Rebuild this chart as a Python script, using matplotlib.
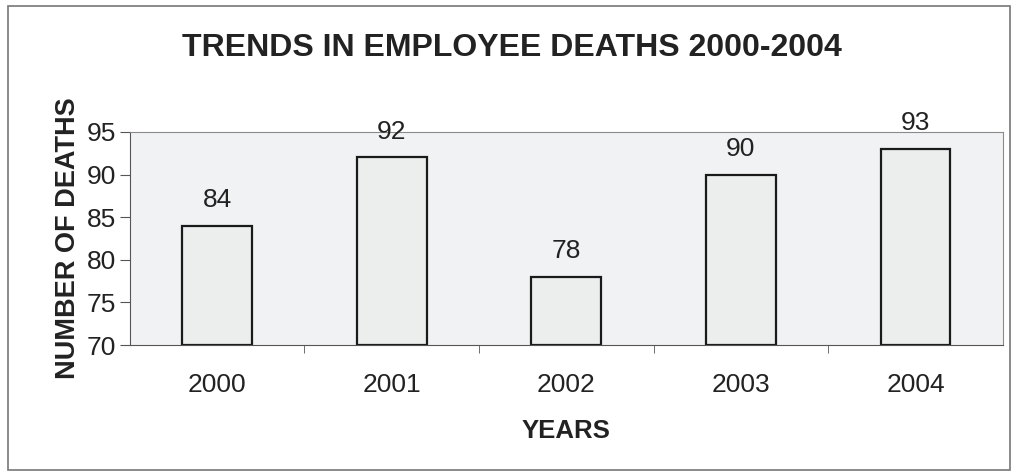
import matplotlib.pyplot as plt
from matplotlib.patches import Rectangle

years = ['2000', '2001', '2002', '2003', '2004']
deaths = [84, 92, 78, 90, 93]

plt.rcParams['font.family'] = ['Liberation Sans', 'DejaVu Sans']

fig = plt.figure(figsize=(10.14, 4.76), dpi=100)
fig.patch.set_facecolor('white')
ax = fig.add_axes([0.128, 0.275, 0.861, 0.448])
ax.set_facecolor('#f1f2f3')

x = range(len(years))
bars = ax.bar(x, [d - 70 for d in deaths], bottom=70, width=0.4,
              color='#eceded', edgecolor='#1a1a1a', linewidth=1.6)
for xi, d in zip(x, deaths):
    ax.text(xi, d + 1.6, str(d), ha='center', va='bottom', fontsize=19, color='#222222')

ax.set_xlim(-0.5, 4.5)
ax.set_ylim(70, 95)
ax.set_yticks([70, 75, 80, 85, 90, 95])
ax.set_xticks(list(x))
ax.set_xticklabels(years)
ax.set_xticks([0.5, 1.5, 2.5, 3.5], minor=True)
ax.tick_params(axis='x', which='major', length=0, pad=20, labelsize=19, colors='#222222')
ax.tick_params(axis='x', which='minor', length=6, direction='out', color='#555555')
ax.tick_params(axis='y', length=7, direction='out', pad=3, labelsize=19, colors='#222222', color='#555555')

for s in ax.spines.values():
    s.set_color('#8a8a8a')
    s.set_linewidth(0.8)
ax.spines['left'].set_color('#555555')
ax.spines['bottom'].set_color('#555555')

ax.set_ylabel('NUMBER OF DEATHS', fontsize=19.5, fontweight='bold', color='#222222', labelpad=4)
ax.set_xlabel('YEARS', fontsize=18.5, fontweight='bold', color='#222222', labelpad=16)
fig.text(0.505, 0.9, 'TRENDS IN EMPLOYEE DEATHS 2000-2004', ha='center', va='center',
         fontsize=23, fontweight='bold', color='#222222')

fig.patches.append(Rectangle((0.008, 0.012), 0.988, 0.975, transform=fig.transFigure,
                             fill=False, edgecolor='#777777', linewidth=1.2))

fig.savefig('out.png', dpi=100)
